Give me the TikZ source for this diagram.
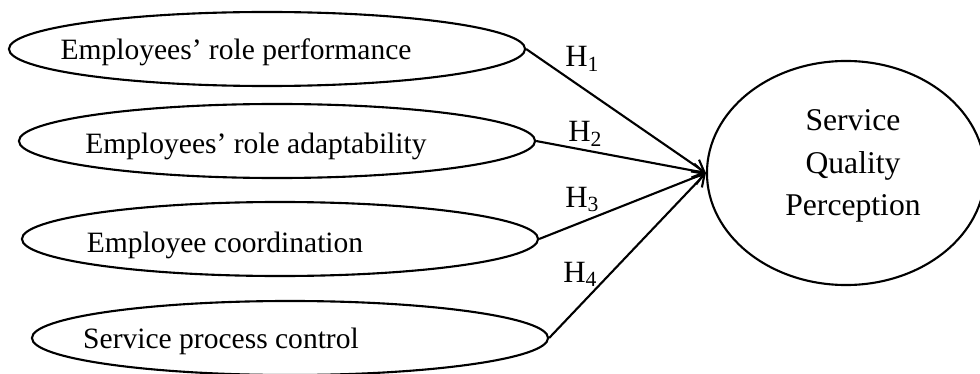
\documentclass[tikz,border=0pt]{standalone}
\usepackage{fontspec}
\setmainfont{Liberation Serif}
\usepackage{tikz}
\usetikzlibrary{shapes.geometric, arrows.meta, positioning}
\tikzset{
  factor/.style={ellipse, draw=black, line width=1.5pt, inner sep=0pt,
    minimum width=12.9cm, minimum height=1.85cm},
  outcome/.style={ellipse, draw=black, line width=1.5pt, inner sep=0pt,
    minimum width=6.95cm, minimum height=5.6cm},
  factxt/.style={anchor=base, inner sep=0pt, font=\fontsize{21}{24}\selectfont},
  hyp/.style={anchor=base west, inner sep=0pt, font=\fontsize{22}{26}\selectfont},
  arrow/.style={-{Straight Barb[length=8pt, width=10pt, line width=1.5pt]}, line width=1.5pt}
}
\begin{document}
\begin{tikzpicture}[x=0.025cm, y=-0.025cm]
  \useasboundingbox (0,0) rectangle (980,374);

  \node[factor] (e1) at (267,49) {};
  \node[factor] (e2) at (277,141) {};
  \node[factor] (e3) at (280,239) {};
  \node[factor] (e4) at (290,338) {};
  \node[outcome] (sqp) at (846,173) {};

  \node[factxt] (t1) at (236,60) {Employees’ role performance};
  \node[factxt] (t2) at (256,153) {Employees’ role adaptability};
  \node[factxt] (t3) at (225,252) {Employee coordination};
  \node[factxt] (t4) at (221,348) {Service process control};
  \node[align=center, inner sep=0pt, font=\fontsize{22.5}{30.2}\selectfont] (t5) at (853,166) {Service\\Quality\\Perception};

  \draw[arrow] (e1.east) -- (sqp.west);
  \draw[arrow] (e2.east) -- (sqp.west);
  \draw[arrow] (e3.east) -- (sqp.west);
  \draw[arrow] (e4.east) -- (sqp.west);

  \node[hyp] (h1) at (565,67) {H\textsubscript{1}};
  \node[hyp] (h2) at (568,142) {H\textsubscript{2}};
  \node[hyp] (h3) at (565,207) {H\textsubscript{3}};
  \node[hyp] (h4) at (563,282) {H\textsubscript{4}};
\end{tikzpicture}
\end{document}
